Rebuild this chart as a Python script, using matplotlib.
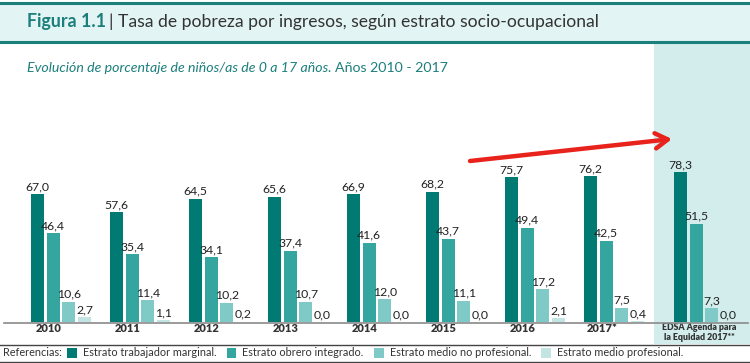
import matplotlib
matplotlib.use("Agg")
import matplotlib.pyplot as plt
from matplotlib.patches import Rectangle
from matplotlib.lines import Line2D

plt.rcParams['font.family'] = ['Lato', 'DejaVu Sans']

categories = ['2010', '2011', '2012', '2013', '2014', '2015', '2016', '2017*',
              'EDSA Agenda para\nla Equidad 2017**']
group_pos = [0, 1, 2, 3, 4, 5, 6, 7, 8.14]
marginal = [67.0, 57.6, 64.5, 65.6, 66.9, 68.2, 75.7, 76.2, 78.3]
obrero = [46.4, 35.4, 34.1, 37.4, 41.6, 43.7, 49.4, 42.5, 51.5]
medio_np = [10.6, 11.4, 10.2, 10.7, 12.0, 11.1, 17.2, 7.5, 7.3]
medio_p = [2.7, 1.1, 0.2, 0.0, 0.0, 0.0, 2.1, 0.4, 0.0]
series_names = ['Estrato trabajador marginal.', 'Estrato obrero integrado.',
                'Estrato medio no profesional.', 'Estrato medio profesional.']
colors = ['#007a72', '#35a5a0', '#7fc9c6', '#c2e5e3']

W, H = 750, 363
fig = plt.figure(figsize=(7.5, 3.63), dpi=100)

def fx(px):
    return px / W

def fy(py):
    return 1 - py / H

teal = '#1b7f7b'
# header band
fig.patches.append(Rectangle((0, fy(41)), 1, fy(4) - fy(41), transform=fig.transFigure,
                             facecolor='#e2f4f4', edgecolor='none', zorder=-2))
for yy in (3, 41.5):
    fig.add_artist(Line2D([0, 1], [fy(yy), fy(yy)], color=teal, lw=2.2, zorder=1))

# right panel
fig.patches.append(Rectangle((fx(654), fy(344)), 1 - fx(654), fy(43) - fy(344),
                             transform=fig.transFigure, facecolor='#d3eded',
                             edgecolor='none', zorder=-2))

# title
t1 = fig.text(fx(27), fy(22), 'Figura 1.1', fontsize=12.8, fontweight='bold',
              color=teal, va='center', ha='left')
fig.canvas.draw()
r = fig.canvas.get_renderer()
bb = t1.get_window_extent(r)
fig.text(bb.x1 / W + 0.004, fy(22), '| Tasa de pobreza por ingresos, según estrato socio-ocupacional',
         fontsize=12.6, color='#333333', va='center', ha='left')

s1 = fig.text(fx(27), fy(68), 'Evolución de porcentaje de niños/as de 0 a 17 años.',
              fontsize=10.2, style='italic', color=teal, va='center', ha='left')
bb = s1.get_window_extent(r)
fig.text(bb.x1 / W + 0.005, fy(68), 'Años 2010 - 2017', fontsize=10.2, color=teal,
         va='center', ha='left')

# axes
px_per_unit = 1.91
ax = fig.add_axes([0, fy(322), 1, fy(44) - fy(322)])
ax.set_facecolor('none')
ax.set_xlim((0 - 61) / 79, (750 - 61) / 79)
ax.set_ylim(0, (322 - 44) / px_per_unit)
ax.axis('off')

bw = 0.165
step = 0.2
all_series = [marginal, obrero, medio_np, medio_p]
for k, (vals, c) in enumerate(zip(all_series, colors)):
    xs = [g + (k - 1.5) * step for g in group_pos]
    ax.bar(xs, vals, width=bw, color=c, zorder=3)
    for x, v in zip(xs, vals):
        ax.text(x, v + 1.0, f'{v:.1f}'.replace('.', ','), ha='center', va='bottom',
                fontsize=8.8, color='#222222', zorder=4)

# baseline
fig.add_artist(Line2D([fx(4), fx(748)], [fy(322.5), fy(322.5)], color='#8a8a8a', lw=1.2, zorder=5))

# category labels
for g, lab in zip(group_pos, categories):
    xpix = 61 + 79 * g
    if '\n' in lab:
        fig.text(fx(xpix - 5), fy(332.5), lab, ha='center', va='center', fontsize=6.3,
                 fontweight='heavy', color='#333333', linespacing=1.1)
    else:
        fig.text(fx(xpix - 12), fy(329), lab, ha='center', va='center', fontsize=8,
                 fontweight='heavy', color='#333333')

# red arrow
ax.annotate('', xy=((672 - 61) / 79, (322 - 139) / px_per_unit),
            xytext=((470 - 61) / 79, (322 - 161) / px_per_unit),
            arrowprops=dict(arrowstyle='->,head_length=0.9,head_width=0.55',
                            color='#e8231c', lw=3.2, shrinkA=0, shrinkB=0),
            annotation_clip=False, zorder=6)

# legend row
for yy in (344.5, 361.5):
    fig.add_artist(Line2D([0, 1], [fy(yy), fy(yy)], color='#444444', lw=1.0, zorder=5))
ref = fig.text(fx(3), fy(353), 'Referencias:', fontsize=7.8, color='#333333',
               va='center', ha='left')
fig.canvas.draw()
x = ref.get_window_extent(r).x1 + 5
for name, c in zip(series_names, colors):
    fig.patches.append(Rectangle((x / W, fy(357.5)), 10 / W, 10 / H, transform=fig.transFigure,
                                 facecolor=c, edgecolor='none'))
    tt = fig.text((x + 16) / W, fy(353), name, fontsize=7.8, color='#333333',
                  va='center', ha='left')
    fig.canvas.draw()
    x = tt.get_window_extent(r).x1 + 10

fig.savefig('out.png', dpi=100)
